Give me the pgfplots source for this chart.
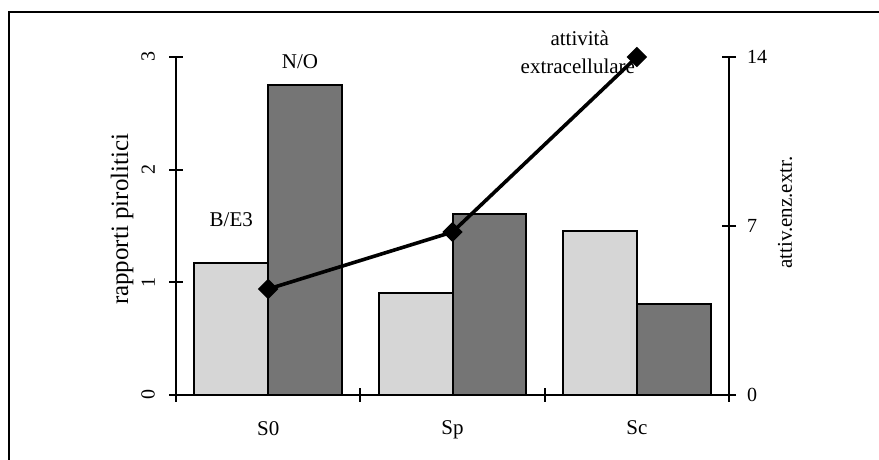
\documentclass[border=0pt]{standalone}
\usepackage{fontspec}
\setmainfont{Liberation Serif}
\usepackage{pgfplots}
\pgfplotsset{compat=1.18}
\definecolor{lightbar}{gray}{0.84}
\definecolor{darkbar}{gray}{0.46}
\begin{document}
\begin{tikzpicture}
\useasboundingbox (0pt,0pt) rectangle (439.5pt,230pt);
\draw[line width=0.9pt] (4.5pt,0pt) -- (4.5pt,224pt) -- (439.5pt,224pt);
\begin{axis}[
  at={(88pt,32.5pt)}, anchor=south west,
  scale only axis, width=276.5pt, height=169pt,
  xmin=-0.5, xmax=2.5, ymin=0, ymax=3,
  clip=false,
  axis x line*=bottom, axis y line*=left,
  axis line style={line width=1.1pt, -},
  tick align=center, major tick length=7pt,
  tick style={line width=1pt, black},
  ytick={0,1,2,3},
  /pgf/number format/assume math mode=true,
  tick label style={font=\fontsize{10}{12}\selectfont},
  yticklabel style={xshift=-3.5pt, rotate=90, anchor=south},
  xtick={-0.5,0.5,1.5,2.5}, xticklabels={,,,},
  extra x ticks={0,1,2}, extra x tick labels={S0,Sp,Sc},
  extra x tick style={major tick length=0pt, tick style={draw=none},
     xticklabel style={font=\fontsize{10.5}{12}\selectfont, yshift=-9.5pt}},
  ylabel={rapporti pirolitici},
  every axis y label/.style={at={(axis description cs:0,0.52)}, xshift=-27pt,
     rotate=90, anchor=center, font=\fontsize{12.5}{14}\selectfont},
]
\addplot[ybar, bar width=0.4, bar shift=-0.2, fill=lightbar, draw=black, line width=1pt]
  coordinates {(0,1.17) (1,0.905) (2,1.46)};
\addplot[ybar, bar width=0.4, bar shift=0.2, fill=darkbar, draw=black, line width=1pt]
  coordinates {(0,2.75) (1,1.61) (2,0.81)};
\node[font=\fontsize{10.5}{12}\selectfont] at (axis cs:0.173,2.96) {N/O};
\node[font=\fontsize{10.5}{12}\selectfont] at (axis cs:-0.2,1.56) {B/E3};
\node[font=\fontsize{10.5}{12}\selectfont] at (axis cs:1.69,3.17) {attività};
\node[font=\fontsize{10.5}{12}\selectfont] at (axis cs:1.68,2.92) {extracellulare};
\end{axis}
\begin{axis}[
  at={(88pt,32.5pt)}, anchor=south west,
  scale only axis, width=276.5pt, height=169pt,
  xmin=-0.5, xmax=2.5, ymin=0, ymax=14,
  clip=false,
  axis x line=none, axis y line*=right,
  axis line style={line width=1.1pt, -},
  tick align=center, major tick length=7pt,
  tick style={line width=1pt, black},
  ytick={0,7,14},
  /pgf/number format/assume math mode=true,
  tick label style={font=\fontsize{10}{12}\selectfont},
  yticklabel style={anchor=west, xshift=2pt},
  ylabel={attiv.enz.extr.},
  every axis y label/.style={at={(axis description cs:1,0.54)}, xshift=28pt,
     rotate=90, anchor=center, font=\fontsize{10.5}{12}\selectfont},
]
\addplot[black, line width=1.8pt, mark=square*, mark size=2.7pt,
  mark options={rotate=45, solid, fill=black}]
  coordinates {(0,4.39) (1,6.75) (2,14)};
\end{axis}
\end{tikzpicture}
\end{document}
